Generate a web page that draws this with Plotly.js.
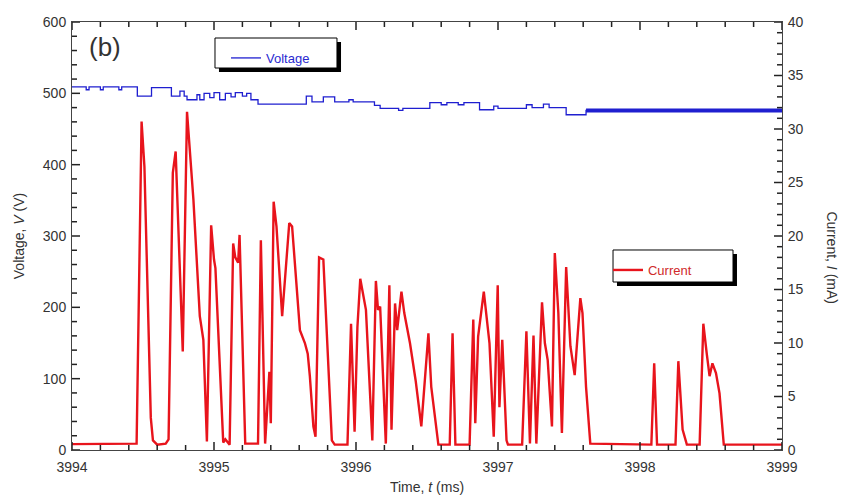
<!DOCTYPE html>
<html>
<head>
<meta charset="utf-8">
<script src="https://cdn.plot.ly/plotly-3.0.1.min.js"></script>
<style>html,body{margin:0;padding:0;background:#fff;}#chart{width:841px;height:497px;}</style>
</head>
<body>
<div id="chart"></div>
<script>
// Current trace: time (ms) and current (mA)
const currentTime = [3994.00,3994.44,3994.455,3994.49,3994.51,3994.555,3994.57,3994.60,3994.66,3994.68,3994.71,3994.73,3994.745,3994.78,3994.81,3994.855,3994.90,3994.925,3994.95,3994.98,3995.00,3995.01,3995.065,3995.08,3995.11,3995.135,3995.15,3995.17,3995.18,3995.22,3995.31,3995.33,3995.36,3995.39,3995.40,3995.42,3995.44,3995.48,3995.53,3995.55,3995.605,3995.64,3995.66,3995.675,3995.70,3995.715,3995.74,3995.77,3995.83,3995.85,3995.94,3995.965,3995.99,3996.01,3996.03,3996.05,3996.07,3996.115,3996.14,3996.155,3996.17,3996.21,3996.235,3996.25,3996.275,3996.29,3996.32,3996.34,3996.38,3996.42,3996.46,3996.51,3996.53,3996.58,3996.66,3996.68,3996.70,3996.80,3996.826,3996.84,3996.86,3996.90,3996.94,3996.97,3996.998,3997.01,3997.03,3997.06,3997.07,3997.17,3997.20,3997.225,3997.25,3997.27,3997.31,3997.33,3997.35,3997.38,3997.40,3997.425,3997.45,3997.48,3997.51,3997.54,3997.58,3997.595,3997.62,3997.65,3998.08,3998.10,3998.12,3998.25,3998.27,3998.30,3998.33,3998.42,3998.446,3998.47,3998.49,3998.51,3998.535,3998.56,3998.59,3999.00];
const currentMA = [0.55,0.55,0.6,30.7,26.5,3.0,0.9,0.5,0.6,1.0,25.9,27.9,22.0,9.2,31.6,23.4,12.5,10.3,0.8,21.0,17.8,17.0,0.7,1.0,0.5,19.3,18.0,17.5,20.1,0.6,0.6,19.6,0.6,7.3,2.5,23.2,20.9,12.5,21.2,20.9,11.2,10.0,9.0,6.9,2.2,1.25,18.0,17.8,0.9,0.5,0.5,11.8,1.7,11.5,16.0,14.5,13.1,0.9,15.8,13.1,13.4,0.6,15.4,1.9,13.7,11.2,14.8,12.8,10.0,6.5,2.2,10.9,5.9,0.5,0.5,10.9,0.5,0.5,12.2,2.5,10.6,14.8,10.0,1.25,15.4,4.0,10.3,0.9,0.5,0.5,11.1,0.6,10.7,0.6,13.8,10.0,8.4,2.2,18.4,12.8,1.6,17.1,9.7,7.0,14.2,12.8,5.9,0.6,0.5,8.1,0.5,0.5,8.3,1.9,0.5,0.5,11.8,9.0,6.9,8.1,7.2,5.3,0.5,0.5];

// Voltage trace: time (ms) and voltage (V), stepped
const voltageTime = [3994.00,3994.10,3994.12,3994.20,3994.22,3994.33,3994.35,3994.46,3994.56,3994.70,3994.76,3994.79,3994.81,3994.88,3994.90,3994.93,3994.97,3995.00,3995.04,3995.08,3995.12,3995.15,3995.20,3995.23,3995.26,3995.31,3995.65,3995.69,3995.77,3995.85,3995.95,3995.98,3996.13,3996.17,3996.30,3996.33,3996.52,3996.60,3996.64,3996.72,3996.76,3996.87,3996.97,3997.00,3997.20,3997.24,3997.32,3997.36,3997.48,3997.62,3999.00];
const voltageV = [509,505,509,505,509,505,509,496,508,496,503,496,491,498,491,500,494,501,491,500,495,501,496,500,491,485,496,488,495,488,491,488,483,479,476,479,487,484,487,484,487,477,482,479,484,480,485,480,470,476,476];
// dense noisy band of the voltage at the end of the record
const voltageBandTime = [3997.62,3999.00];
const voltageBandV = [476,476];

// axis tick values
const xTickVals = [3994,3995,3996,3997,3998,3999];
const yTickVals = [0,100,200,300,400,500,600];
const y2TickVals = [0,5,10,15,20,25,30,35,40];
const xMinorStep = 0.2, yMinorStep = 20, y2MinorStep = 1;

const axisColor = '#222';
const tickFont = {family:'Liberation Sans, Arial, sans-serif', size:14, color:'#333'};

const traces = [
  {x: voltageTime, y: voltageV, type:'scatter', mode:'lines', name:'Voltage', yaxis:'y',
   line:{color:'#1f1fd0', width:1.3, shape:'hv'}, legend:'legend'},
  {x: voltageBandTime, y: voltageBandV, type:'scatter', mode:'lines', name:'Voltage', yaxis:'y',
   line:{color:'#1f1fd0', width:4}, showlegend:false, hoverinfo:'skip'},
  {x: currentTime, y: currentMA, type:'scatter', mode:'lines', name:'Current', yaxis:'y2',
   line:{color:'#e8141c', width:2.4}, legend:'legend2'}
];

// inside tick marks, placed through the axes' own scales (lengths as fractions of the plot area)
const plotW = 841 - 72 - 59, plotH = 497 - 22 - 47;
function steps(a, b, step) { const out = []; const n = Math.round((b - a) / step); for (let i = 0; i <= n; i++) out.push(+(a + i * step).toFixed(6)); return out; }
const tickShapes = [];
function xTick(v, len) {
  const f = len / plotH;
  tickShapes.push({type:'line', xref:'x', yref:'paper', x0:v, x1:v, y0:0, y1:f, line:{color:axisColor, width:1.5}, layer:'above'});
  tickShapes.push({type:'line', xref:'x', yref:'paper', x0:v, x1:v, y0:1, y1:1 - f, line:{color:axisColor, width:1.5}, layer:'above'});
}
function yTick(v, len, axis, side) {
  const f = len / plotW;
  tickShapes.push({type:'line', xref:'paper', yref:axis, x0:side, x1:side === 0 ? f : 1 - f, y0:v, y1:v, line:{color:axisColor, width:1.5}, layer:'above'});
}
steps(3994, 3999, xMinorStep).forEach(v => xTick(v, xTickVals.includes(v) ? 8 : 5));
steps(0, 600, yMinorStep).forEach(v => yTick(v, yTickVals.includes(v) ? 8 : 5, 'y', 0));
steps(0, 40, y2MinorStep).forEach(v => yTick(v, y2TickVals.includes(v) ? 8 : 5, 'y2', 1));

const legendBoxes = [
  {type:'rect', xref:'paper', yref:'paper', x0:0.2070, x1:0.3789, y0:0.8832, y1:0.9533, fillcolor:'#000', line:{width:0}, layer:'above'},
  {type:'rect', xref:'paper', yref:'paper', x0:0.2014, x1:0.3732, y0:0.8925, y1:0.9626, fillcolor:'#fff', line:{width:1, color:'#000'}, layer:'above'},
  {type:'rect', xref:'paper', yref:'paper', x0:0.7676, x1:0.9366, y0:0.3832, y1:0.4579, fillcolor:'#000', line:{width:0}, layer:'above'},
  {type:'rect', xref:'paper', yref:'paper', x0:0.7620, x1:0.9310, y0:0.3925, y1:0.4673, fillcolor:'#fff', line:{width:1, color:'#000'}, layer:'above'}
];

const layout = {
  width:841, height:497,
  margin:{l:72, r:59, t:22, b:47},
  paper_bgcolor:'#fff', plot_bgcolor:'#fff',
  font:{family:'Liberation Sans, Arial, sans-serif', color:'#333'},
  xaxis:{range:[3994,3999], tickvals:xTickVals, ticktext:xTickVals.map(String),
    ticks:'', showline:true, linecolor:'#444', linewidth:1, mirror:true,
    showgrid:false, zeroline:false, tickfont:tickFont, ticklabelstandoff:4,
    title:{text:'Time, <i>t</i> (ms)', font:{size:14, color:'#333'}, standoff:8}},
  yaxis:{range:[0,600], tickvals:yTickVals, ticks:'', showline:true, linecolor:'#444', mirror:true,
    showgrid:false, zeroline:false, tickfont:tickFont, ticklabelstandoff:2,
    title:{text:'Voltage, <i>V</i> (V)', font:{size:14, color:'#333'}, standoff:14}},
  yaxis2:{range:[0,40], tickvals:y2TickVals, overlaying:'y', side:'right', ticks:'', showline:true, linecolor:'#444',
    showgrid:false, zeroline:false, tickfont:tickFont, ticklabelstandoff:2},
  legend:{x:0.2169, y:0.951, xanchor:'left', yanchor:'top', bgcolor:'rgba(0,0,0,0)', borderwidth:0,
    font:{size:13, color:'#2a2ad0'}},
  legend2:{x:0.7549, y:0.4556, xanchor:'left', yanchor:'top', bgcolor:'rgba(0,0,0,0)', borderwidth:0,
    font:{size:13, color:'#d02a2a'}},
  shapes: legendBoxes.concat(tickShapes),
  annotations:[
    {text:'(b)', xref:'paper', yref:'paper', x:0.046, y:0.942, xanchor:'center', yanchor:'middle', showarrow:false, font:{size:26, color:'#333'}},
    {text:'Current, <i>I</i> (mA)', xref:'paper', yref:'paper', x:1, y:0.45, xshift:50, xanchor:'center', yanchor:'middle', showarrow:false,
     textangle:90, font:{size:14, color:'#333'}}
  ],
  showlegend:true
};

Plotly.newPlot('chart', traces, layout, {displayModeBar:false, staticPlot:true});
</script>
</body>
</html>
